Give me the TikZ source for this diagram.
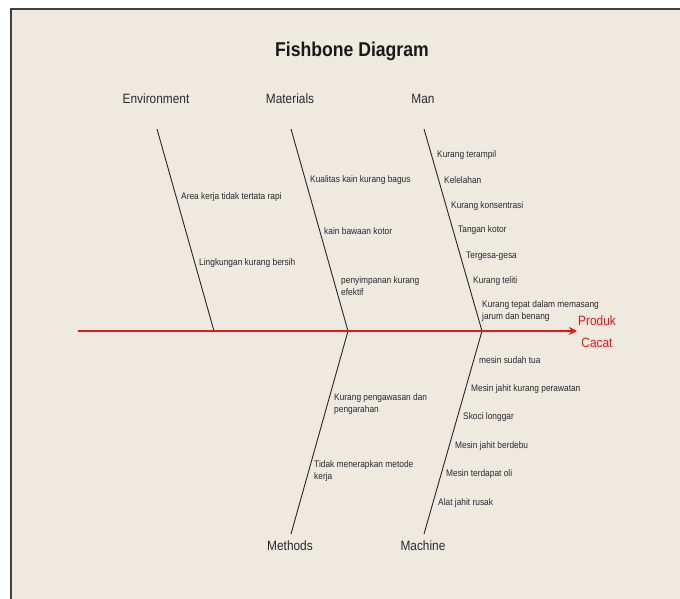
\documentclass[tikz,border=0pt]{standalone}
\usepackage{fontspec}
\setmainfont{Liberation Sans}
\newfontfamily\condf[FakeStretch=0.88]{Liberation Sans}
\usetikzlibrary{arrows.meta}
\definecolor{bg}{RGB}{239,234,224}
\definecolor{framec}{RGB}{64,64,64}
\definecolor{txt}{RGB}{40,40,50}
\definecolor{spinec}{RGB}{240,20,20}
\begin{document}
\begin{tikzpicture}[x=1pt,y=-1pt,
  cause/.style={anchor=west, inner sep=0pt, align=left, text=txt, font=\condf\fontsize{9.5}{12}\selectfont},
  catlabel/.style={inner sep=0pt, text=txt, font=\condf\fontsize{13.5}{16}\selectfont},
  bone/.style={draw=black!85, line width=0.9pt},
  spineline/.style={draw=spinec, line width=1.4pt, -{Stealth[length=8pt,width=8pt,inset=2.5pt]}},
  effectlabel/.style={inner sep=0pt, align=center, text=spinec, font=\condf\fontsize{13.5}{22}\selectfont}]
\useasboundingbox (0,0) rectangle (680,599);
\fill[white] (0,0) rectangle (680,599);
\fill[bg] (11,9) rectangle (680,599);
\draw[framec, line width=2pt] (11,599) -- (11,9) -- (680,9);

\node[inner sep=0pt, text=black!90, font=\condf\bfseries\fontsize{20}{24}\selectfont] (title) at (352,51) {Fishbone Diagram};

% category labels
\node[catlabel] (env) at (156,99) {Environment};
\node[catlabel] (mat) at (290,99) {Materials};
\node[catlabel] (man) at (423,99) {Man};
\node[catlabel] (meth) at (290,546) {Methods};
\node[catlabel] (mach) at (423,546) {Machine};

% bone ends
\coordinate (envT) at (157,129);
\coordinate (matT) at (291,129);
\coordinate (manT) at (424,129);
\coordinate (envJ) at (214,331);
\coordinate (matJ) at (348,331);
\coordinate (manJ) at (482,331);
\coordinate (methB) at (291,534);
\coordinate (machB) at (424,534);
\coordinate (tail) at (78,331);
\coordinate (head) at (577,331);

\draw[bone] (envT) -- (envJ);
\draw[bone] (matT) -- (matJ);
\draw[bone] (manT) -- (manJ);
\draw[bone] (matJ) -- (methB);
\draw[bone] (manJ) -- (machB);
\draw[spineline] (tail) -- (head);

\node[effectlabel] (effect) at (597,332) {Produk\\Cacat};

% Environment
\node[cause] (e1) at (181,197) {Area kerja tidak tertata rapi};
\node[cause] (e2) at (199,263) {Lingkungan kurang bersih};
% Materials
\node[cause] (m1) at (310,180) {Kualitas kain kurang bagus};
\node[cause] (m2) at (324,231) {kain bawaan kotor};
\node[cause] (m3) at (341,286) {penyimpanan kurang\\efektif};
% Man
\node[cause] (p1) at (437,155) {Kurang terampil};
\node[cause] (p2) at (444,180) {Kelelahan};
\node[cause] (p3) at (451,206) {Kurang konsentrasi};
\node[cause] (p4) at (458,230) {Tangan kotor};
\node[cause] (p5) at (466,256) {Tergesa-gesa};
\node[cause] (p6) at (473,281) {Kurang teliti};
\node[cause] (p7) at (482,311) {Kurang tepat dalam memasang\\jarum dan benang};
% Methods
\node[cause] (d1) at (334,404) {Kurang pengawasan dan\\pengarahan};
\node[cause] (d2) at (314,471) {Tidak menerapkan metode\\kerja};
% Machine
\node[cause] (k1) at (479,360) {mesin sudah tua};
\node[cause] (k2) at (471,389) {Mesin jahit kurang perawatan};
\node[cause] (k3) at (463,417) {Skoci longgar};
\node[cause] (k4) at (455,446) {Mesin jahit berdebu};
\node[cause] (k5) at (446,474) {Mesin terdapat oli};
\node[cause] (k6) at (438,503) {Alat jahit rusak};
\end{tikzpicture}
\end{document}
